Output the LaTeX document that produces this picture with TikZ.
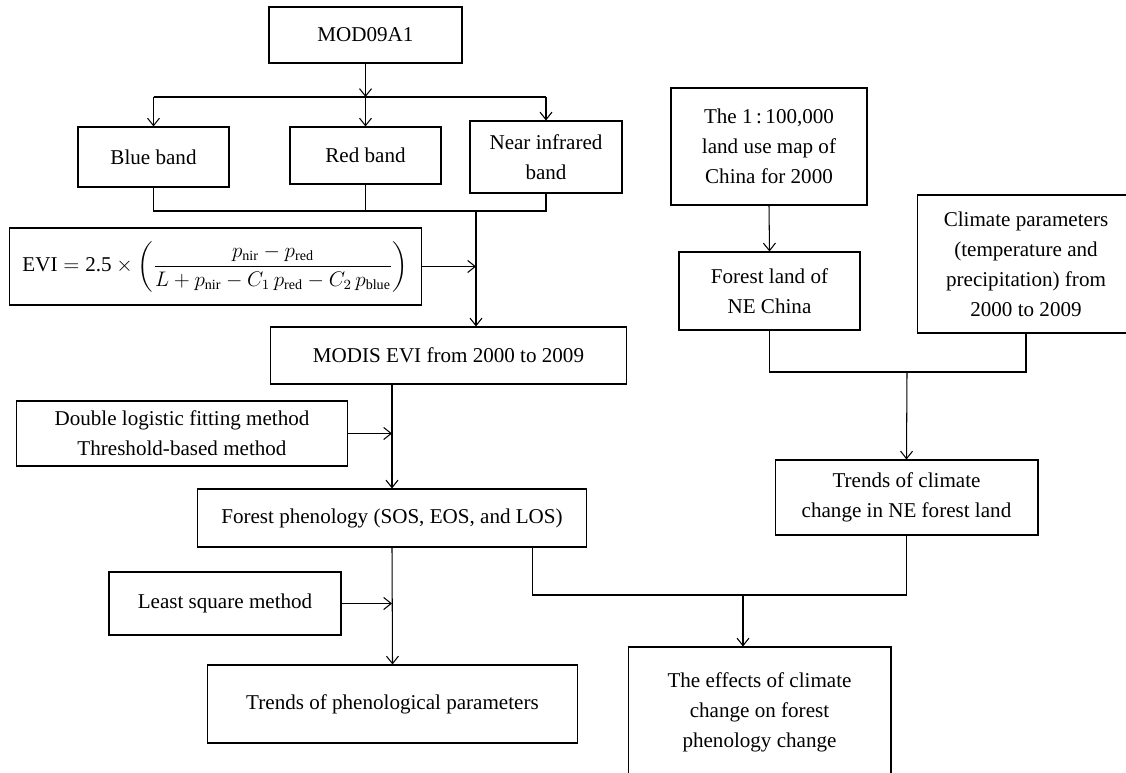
\documentclass[tikz,border=0pt]{standalone}
\usepackage{amsmath}
\usepackage{fontspec}
\setmainfont{Liberation Serif}
\usetikzlibrary{arrows.meta,positioning}

\begin{document}
\begin{tikzpicture}[x=0.02cm,y=-0.02cm,
    box/.style={draw,line width=0.6pt,align=center,inner sep=0pt,
      font=\fontsize{12pt}{17pt}\selectfont},
    arr/.style={-{Straight Barb[length=1.5mm,width=2.4mm]},line width=0.6pt},
    link/.style={line width=0.6pt}
  ]
    \useasboundingbox (0,0) rectangle (1126,773);
    \clip (0,0) rectangle (1126,773);
    \node[box,minimum width=3.86cm,minimum height=1.12cm] (mod) at (365.5,35) {MOD09A1};
    \node[box,minimum width=3.02cm,minimum height=1.2cm] (blue) at (153.5,157) {Blue band};
    \node[box,minimum width=3.02cm,minimum height=1.14cm] (red) at (365.5,155.5) {Red band};
    \node[box,minimum width=3.04cm,minimum height=1.44cm] (nir) at (546,157) {Near infrared\\band};
    \node[box,minimum width=8.26cm,minimum height=1.54cm] (evi) at (215.5,266.5)
      {$\text{EVI} = \text{2.5} \times \left(\dfrac{p_{\mathrm{nir}} - p_{\mathrm{red}}}
      {L + p_{\mathrm{nir}} - C_1\,p_{\mathrm{red}} - C_2\,p_{\mathrm{blue}}}\right)$};
    \node[box,minimum width=7.14cm,minimum height=1.14cm] (modis) at (448.5,355.5) {MODIS EVI from 2000 to 2009};
    \node[box,minimum width=6.64cm,minimum height=1.3cm] (dbl) at (182,433.5)
      {Double logistic fitting method\\Threshold-based method};
    \node[box,minimum width=7.8cm,minimum height=1.16cm] (fp) at (392,518) {Forest phenology (SOS, EOS, and LOS)};
    \node[box,minimum width=4.64cm,minimum height=1.26cm] (lsq) at (225,603.5) {Least square method};
    \node[box,minimum width=7.42cm,minimum height=1.56cm] (tpp) at (392.5,704) {Trends of phenological parameters};
    \node[box,minimum width=3.92cm,minimum height=2.34cm] (map) at (769,146.5)
      {The 1\,:\,100,000\\land use map of\\China for 2000};
    \node[box,minimum width=3.62cm,minimum height=1.56cm] (fl) at (769.5,291) {Forest land of\\NE China};
    \node[box,minimum width=4.36cm,minimum height=2.76cm] (clim) at (1026,264)
      {Climate parameters\\(temperature and\\precipitation) from\\2000 to 2009};
    \node[box,minimum width=5.26cm,minimum height=1.5cm] (tcc) at (906.5,497.5)
      {Trends of climate\\change in NE forest land};
    \node[box,minimum width=5.26cm,minimum height=2.6cm] (eff) at (759.5,712)
      {The effects of climate\\change on forest\\phenology change};

    \coordinate (split) at (365.5,97);
    \coordinate (join) at (476,211);
    \coordinate (cj) at (907,372);
    \coordinate (ej) at (743,595);

    \draw[arr] (mod.south) -- (split);
    \draw[link] (blue.north |- split) -- (nir.north |- split);
    \foreach \b in {blue,red,nir}\draw[arr] (\b.north |- split) -- (\b.north);
    \draw[link] (blue.south) |- (nir.south |- join) -- (nir.south);
    \draw[link] (red.south) -- (red.south |- join);
    \draw[arr] (join) -- (join |- modis.north);
    \draw[arr] (evi.east) -- (evi.east -| join);
    \draw[arr] (fp.north |- modis.south) -- (fp.north);
    \draw[arr] (dbl.east) -- (dbl.east -| fp.north);
    \draw[arr] (fp.south) -- (tpp.north);
    \draw[arr] (lsq.east) -- (lsq.east -| fp.south);
    \draw[arr] (map.south) -- (fl.north);
    \draw[link] (fl.south) |- (clim.south |- cj) -- (clim.south);
    \draw[arr] (cj) -- (tcc.north);
    \draw[link] (fp.south east) ++(-55,0) |- (tcc.south |- ej) -- (tcc.south);
    \draw[arr] (ej) -- (ej |- eff.north);
  \end{tikzpicture}
\end{document}
